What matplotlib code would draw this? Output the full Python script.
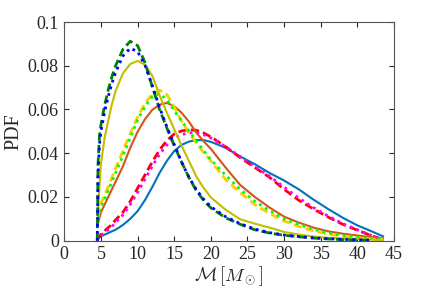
import numpy as np
import matplotlib
matplotlib.use("Agg")
import matplotlib.pyplot as plt

plt.rcParams["font.family"] = ["Liberation Serif", "DejaVu Serif"]
plt.rcParams["mathtext.fontset"] = "cm"

# chirp mass grid [M_sun]
mass = [4.5, 4.6, 4.8, 5, 5.5, 6, 6.5, 7, 8, 9, 10, 11, 12, 13, 14, 15, 16, 17, 18, 19, 20,
        22, 24, 26, 28, 30, 32, 34, 36, 38, 40, 42, 43.5]
nan = np.nan

blue_solid = [nan, nan, 0.0015, 0.002, 0.0028, 0.0035, 0.0043, 0.005, 0.0072, 0.0100, 0.0135,
              0.0185, 0.0245, 0.031, 0.0365, 0.041, 0.0438, 0.0453, 0.046, 0.046, 0.0452,
              0.0425, 0.0385, 0.035, 0.031, 0.0275, 0.0235, 0.0188, 0.0145, 0.0105, 0.007, 0.0042, 0.002]
red_dashed = [0.0, 0.001, 0.002, 0.003, 0.0045, 0.006, 0.0075, 0.0095, 0.013, 0.018, 0.024,
              0.030, 0.036, 0.0415, 0.0458, 0.0488, 0.0502, 0.0507, 0.0505, 0.0493, 0.0475,
              0.043, 0.038, 0.0335, 0.029, 0.0235, 0.0185, 0.0145, 0.0108, 0.0075, 0.0048, 0.0022, 0.0005]
magenta_dotted = [0.0, 0.001, 0.0018, 0.0025, 0.0037, 0.005, 0.0065, 0.0083, 0.0118, 0.0165, 0.022,
                  0.028, 0.034, 0.0395, 0.0438, 0.0468, 0.0485, 0.0493, 0.0494, 0.0485, 0.047,
                  0.043, 0.0385, 0.034, 0.0295, 0.0245, 0.0195, 0.0152, 0.0113, 0.0078, 0.005, 0.0023, 0.0006]
orange_solid = [nan, 0.008, 0.0105, 0.013, 0.0165, 0.020, 0.0235, 0.027, 0.034, 0.0425, 0.0498,
                0.0555, 0.0598, 0.0622, 0.063, 0.0615, 0.0585, 0.0545, 0.0495, 0.0455, 0.042,
                0.0335, 0.0255, 0.020, 0.0152, 0.011, 0.0083, 0.006, 0.0043, 0.0032, 0.0024, 0.0016, 0.001]
yellow_dashed = [nan, 0.011, 0.014, 0.017, 0.021, 0.0247, 0.029, 0.033, 0.041, 0.049, 0.0565,
                 0.0628, 0.067, 0.0688, 0.0668, 0.0612, 0.0548, 0.0493, 0.0448, 0.0403, 0.0365,
                 0.028, 0.022, 0.0165, 0.0125, 0.009, 0.0065, 0.0045, 0.003, 0.002, 0.0013, 0.0008, 0.0005]
green_dotted = [nan, 0.010, 0.013, 0.0155, 0.019, 0.023, 0.027, 0.031, 0.039, 0.047, 0.0552,
                0.0613, 0.0658, 0.0672, 0.0645, 0.0595, 0.0548, 0.0502, 0.0458, 0.0413, 0.037,
                0.030, 0.0235, 0.018, 0.0138, 0.010, 0.0075, 0.0052, 0.0036, 0.0025, 0.0017, 0.001, 0.0007]
olive_solid = [nan, 0.012, 0.025, 0.035, 0.047, 0.055, 0.0625, 0.0685, 0.0765, 0.0808, 0.0822,
               0.0805, 0.0755, 0.0665, 0.0585, 0.051, 0.0435, 0.0365, 0.0295, 0.0242, 0.0198,
               0.0142, 0.0098, 0.0078, 0.006, 0.004, 0.0028, 0.0019, 0.0013, 0.001, 0.0008, 0.0005, 0.0]
dkgreen_dashed = [0.0, 0.035, 0.048, 0.053, 0.062, 0.069, 0.075, 0.080, 0.0875, 0.0912, 0.0892,
                  0.0815, 0.0705, 0.060, 0.0515, 0.0435, 0.036, 0.029, 0.023, 0.0185, 0.015,
                  0.0105, 0.0075, 0.005, 0.0035, 0.0025, 0.0018, 0.0012, 0.0008, 0.0005, 0.0003, 0.0001, nan]
blue_dotted = [0.0, 0.030, 0.044, 0.050, 0.059, 0.066, 0.072, 0.077, 0.0845, 0.088, 0.0865,
               0.0803, 0.071, 0.061, 0.052, 0.044, 0.036, 0.029, 0.0235, 0.019, 0.0155,
               0.011, 0.0078, 0.0053, 0.0037, 0.0026, 0.0019, 0.0013, 0.0009, 0.0006, 0.0004, 0.0002, nan]

fig = plt.figure(figsize=(4.36, 2.93), dpi=100)
ax = fig.add_axes([0.1475, 0.1785, 0.7562, 0.7464])

ax.plot(mass, blue_solid, color="#0072BD", lw=1.5)
ax.plot(mass, red_dashed, color="#FF0000", lw=2, ls=(0, (3, 1.5)))
ax.plot(mass, magenta_dotted, color="#FF00FF", lw=2, ls=(0, (1, 1.5)))
ax.plot(mass, orange_solid, color="#D95319", lw=1.5)
ax.plot(mass, yellow_dashed, color="#FFCC00", lw=2, ls=(0, (3, 1.5)))
ax.plot(mass, green_dotted, color="#00FF00", lw=2, ls=(0, (1, 1.5)))
ax.plot(mass, olive_solid, color="#BFBF00", lw=1.5)
ax.plot(mass, dkgreen_dashed, color="#008000", lw=2, ls=(0, (3, 1.5)))
ax.plot(mass, blue_dotted, color="#0000FF", lw=2, ls=(0, (1, 1.5)))

ax.set_xlim(0, 45)
ax.set_ylim(0, 0.1)
ax.set_xticks(range(0, 46, 5))
ax.set_yticks([0, 0.02, 0.04, 0.06, 0.08, 0.1])
ax.set_yticklabels(["0", "0.02", "0.04", "0.06", "0.08", "0.1"])
ax.tick_params(direction="in", top=True, right=True, length=3.5, width=0.8,
               labelsize=13, colors="#262626", pad=4)
for s in ax.spines.values():
    s.set_color("#555555")
    s.set_linewidth(0.8)
ax.set_xlabel(r"$\mathcal{M}\,[M_\odot]$", fontsize=13.5, color="#262626", labelpad=1)
ax.set_ylabel("PDF", fontsize=14.5, color="#262626", labelpad=3)

fig.savefig("out.png", dpi=100)
